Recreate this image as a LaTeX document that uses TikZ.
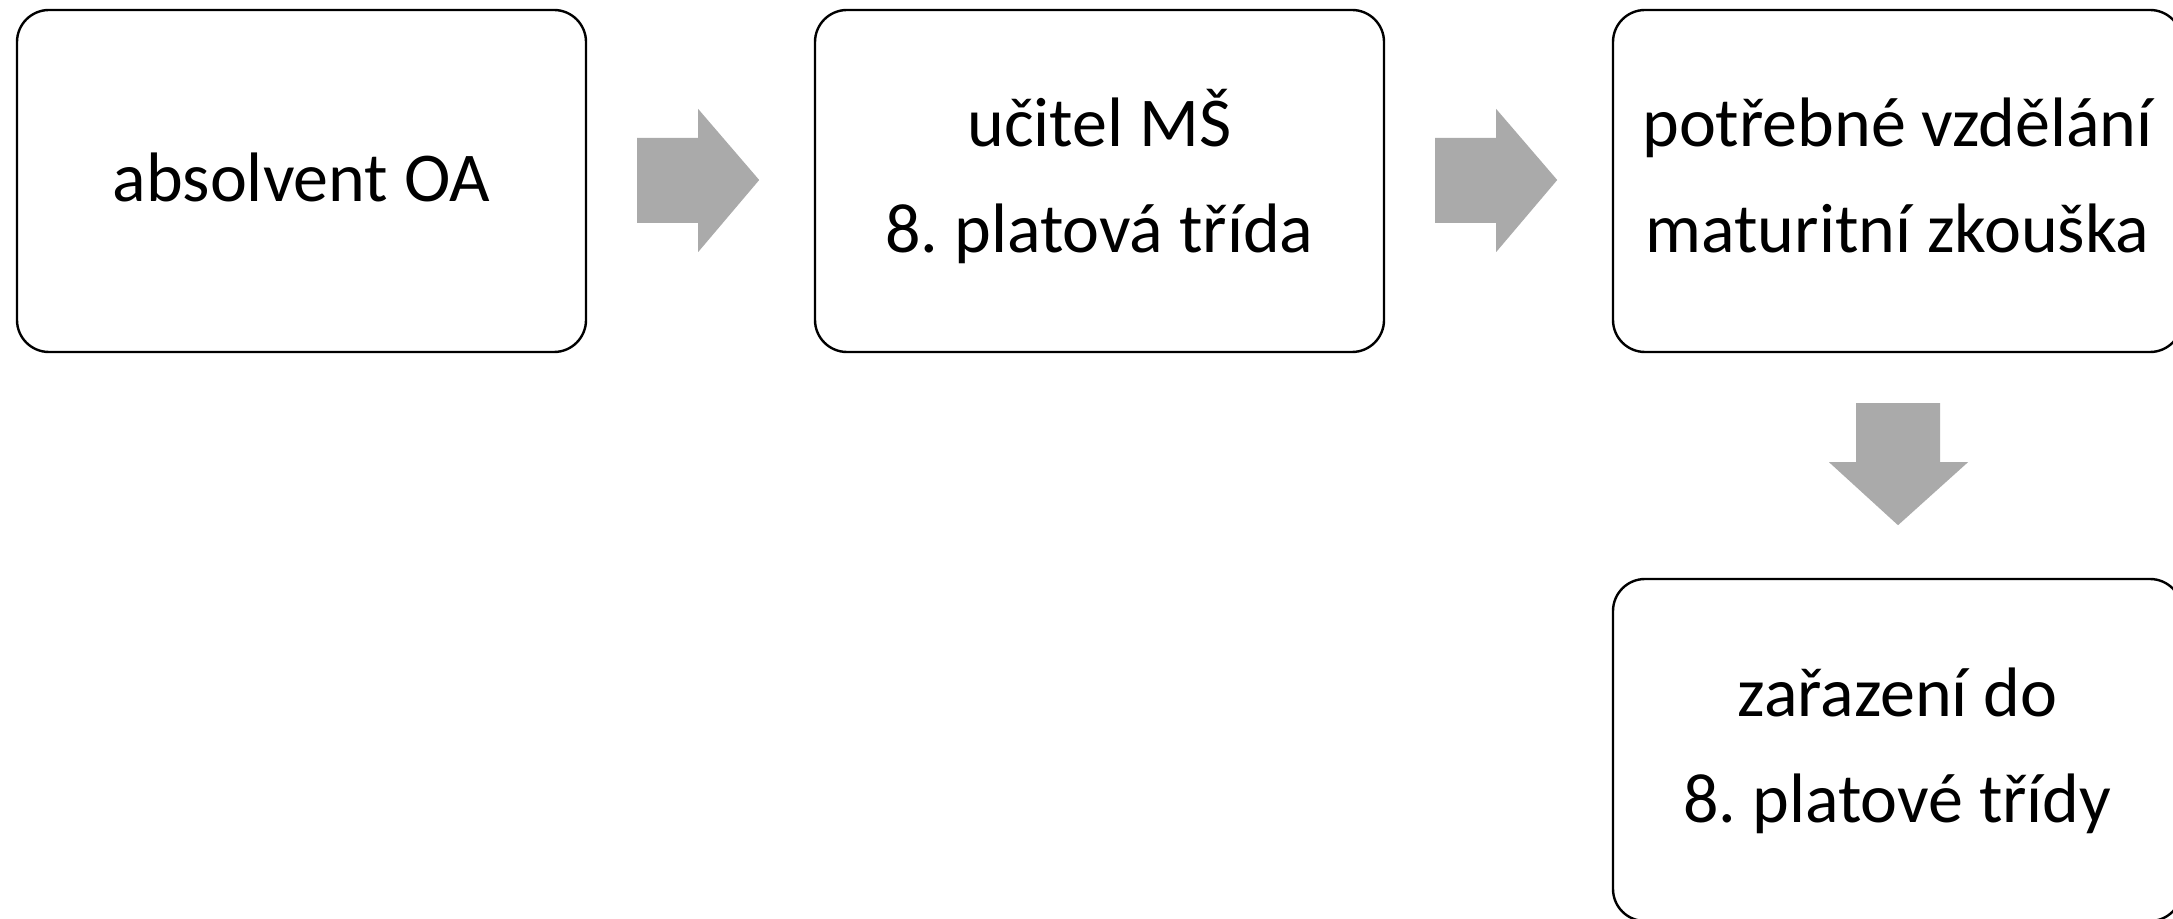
\documentclass[tikz,border=0pt]{standalone}
\usepackage{fontspec}
\setmainfont{Carlito}
\usetikzlibrary{calc}
\definecolor{arrowgray}{HTML}{AAAAAA}
\frenchspacing
\tikzset{
  box/.style={draw=black, line width=1.2pt, rounded corners=16pt, fill=white,
    minimum width=284.5pt, minimum height=171pt, align=center, inner sep=0pt,
    font=\fontsize{35}{53}\selectfont},
  oneline/.style={text height=26pt, text depth=5pt},
  twoline/.style={text height=80pt, text depth=8pt},
  blockarrow/.style={fill=arrowgray, draw=none}
}
\begin{document}
\begin{tikzpicture}[x=0.5pt,y=-0.5pt]
\useasboundingbox (0,0) rectangle (2173,919);
\clip (0,0) rectangle (2173,919);
\fill[white] (0,0) rectangle (2173,919);
\node[box, oneline] (b1) at (301.5,181) {absolvent OA};
\node[box, twoline] (b2) at (1099.5,181) {učitel MŠ\\8. platová třída};
\node[box, twoline] (b3) at (1897.5,181) {potřebné vzdělání\\maturitní zkouška};
\node[box, twoline] (b4) at (1897.5,750) {zařazení do\\8. platové třídy};
% right arrows
\coordinate (a1) at ($(b1.east)+(50,0)$);
\coordinate (a2) at ($(b2.east)+(50,0)$);
\foreach \a in {a1,a2}{
  \fill[blockarrow] ($(\a)+(0,-43)$) -- ($(\a)+(61,-43)$) -- ($(\a)+(61,-72)$)
    -- ($(\a)+(122,-1)$) -- ($(\a)+(61,71)$) -- ($(\a)+(61,42)$) -- ($(\a)+(0,42)$) -- cycle;
}
% down arrow
\coordinate (a3) at ($(b3.south)+(0.5,50)$);
\fill[blockarrow] ($(a3)+(-42,0)$) -- ($(a3)+(42,0)$) -- ($(a3)+(42,59)$) -- ($(a3)+(70,59)$)
  -- ($(a3)+(0,122)$) -- ($(a3)+(-69,59)$) -- ($(a3)+(-42,59)$) -- cycle;
\end{tikzpicture}
\end{document}
